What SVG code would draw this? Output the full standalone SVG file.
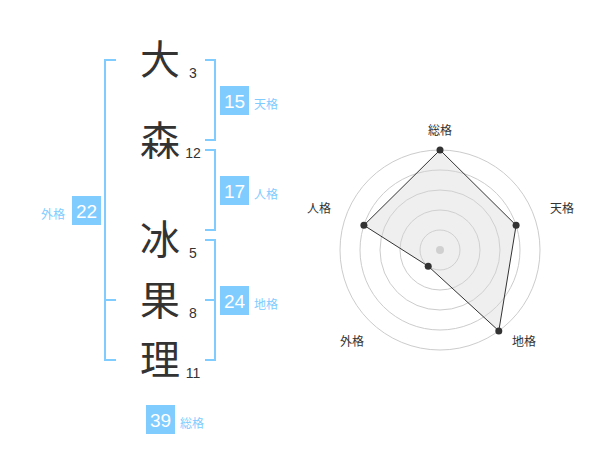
<svg xmlns="http://www.w3.org/2000/svg" width="600" height="470" viewBox="0 0 600 470">
<style>
text{font-family:"Liberation Sans","Noto Sans CJK JP",sans-serif}
.ch{font-size:40px;fill:#333;text-anchor:middle;font-family:"Noto Sans CJK JP",sans-serif}
.num{font-size:14px;fill:#333;text-anchor:middle}
.br{fill:none;stroke:#80ccff;stroke-width:2}
.box{fill:#80ccff}
.bn{font-size:19px;fill:#fff;text-anchor:middle}
.bl{font-size:12px;fill:#80ccff;font-family:"Noto Sans CJK JP",sans-serif}
.ring{fill:none;stroke:#ccc;stroke-width:1}
.rl{font-size:12px;fill:#333;text-anchor:middle;font-family:"Noto Sans CJK JP",sans-serif}
.dot{fill:#333}
</style>
<rect width="600" height="470" fill="#fff"/>
<g id="chars">
<g id="c1"><text class="ch" x="160" y="74">大</text><text class="num" x="193" y="78">3</text></g>
<g id="c2"><text class="ch" x="160" y="155">森</text><text class="num" x="193" y="158">12</text></g>
<g id="c3"><text class="ch" x="160" y="254">冰</text><text class="num" x="193" y="258">5</text></g>
<g id="c4"><text class="ch" x="160" y="315">果</text><text class="num" x="193" y="318">8</text></g>
<g id="c5"><text class="ch" x="160" y="374">理</text><text class="num" x="193" y="378">11</text></g>
</g>
<g id="connectors">
<path class="br" d="M205,60 H215 V140 H205"/>
<path class="br" d="M205,150 H215 V230 H205"/>
<path class="br" d="M205,240 H215 V360 H205 M205,300 H215"/>
<path class="br" d="M116,60 H105 V360 H116 M105,300 H116"/>
</g>
<g id="tenkaku"><rect class="box" x="220" y="86" width="29" height="29"/><text class="bn" x="234.5" y="108">15</text><text class="bl" x="254" y="109">天格</text></g>
<g id="jinkaku"><rect class="box" x="220" y="176" width="29" height="29"/><text class="bn" x="234.5" y="198">17</text><text class="bl" x="254" y="199">人格</text></g>
<g id="gaikaku"><rect class="box" x="72" y="196" width="29" height="29"/><text class="bn" x="86.5" y="218">22</text><text class="bl" x="41" y="219">外格</text></g>
<g id="chikaku"><rect class="box" x="220" y="286" width="29" height="29"/><text class="bn" x="234.5" y="308">24</text><text class="bl" x="254" y="309">地格</text></g>
<g id="soukaku"><rect class="box" x="146" y="405" width="29" height="29"/><text class="bn" x="160.5" y="427">39</text><text class="bl" x="180" y="428">総格</text></g>
<g id="radar">
<circle class="ring" cx="440" cy="250" r="20"/>
<circle class="ring" cx="440" cy="250" r="40"/>
<circle class="ring" cx="440" cy="250" r="60"/>
<circle class="ring" cx="440" cy="250" r="80"/>
<circle class="ring" cx="440" cy="250" r="100"/>
<circle cx="440" cy="250" r="4" fill="#ccc"/>
<polygon points="440,150 516.1,225.3 498.8,330.9 428.2,266.2 363.9,225.3" fill="#d8d8d8" fill-opacity="0.4" stroke="#333" stroke-width="1"/>
<circle class="dot" cx="440" cy="150" r="3.5"/>
<circle class="dot" cx="516.1" cy="225.3" r="3.5"/>
<circle class="dot" cx="498.8" cy="330.9" r="3.5"/>
<circle class="dot" cx="428.2" cy="266.2" r="3.5"/>
<circle class="dot" cx="363.9" cy="225.3" r="3.5"/>
<text class="rl" x="440" y="135">総格</text>
<text class="rl" x="562" y="213">天格</text>
<text class="rl" x="524" y="346">地格</text>
<text class="rl" x="352" y="346">外格</text>
<text class="rl" x="319" y="213">人格</text>
</g>
</svg>
